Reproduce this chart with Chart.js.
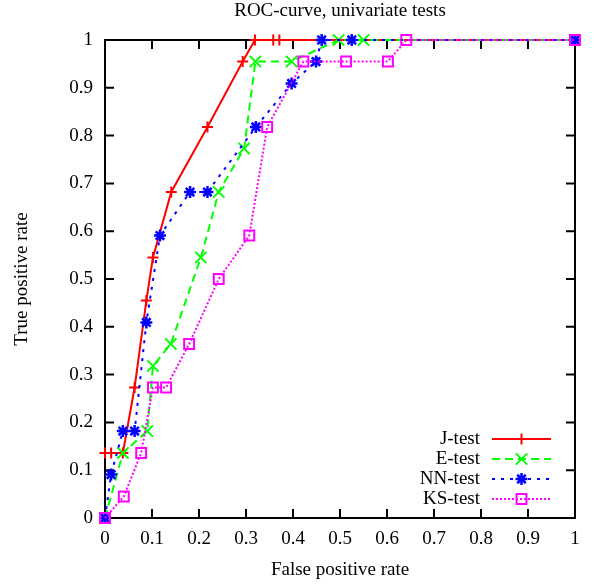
<!DOCTYPE html>
<html>
<head>
<meta charset="utf-8">
<script src="https://cdn.jsdelivr.net/npm/chart.js@4/dist/chart.umd.min.js"></script>
<style>
  html, body { margin: 0; padding: 0; background: #fff; }
</style>
</head>
<body>
<canvas id="roc" width="596" height="585"></canvas>
<script>
// --- ROC data ---
const seriesNames = ['J-test', 'E-test', 'NN-test', 'KS-test'];

const jX = [0, 0.013, 0.038, 0.063, 0.088, 0.102, 0.141, 0.218, 0.293, 0.319, 0.358, 0.371, 1];
const jY = [0.136, 0.136, 0.136, 0.273, 0.455, 0.545, 0.682, 0.818, 0.955, 1, 1, 1, 1];

const eX = [0, 0.038, 0.090, 0.102, 0.140, 0.204, 0.242, 0.296, 0.320, 0.397, 0.497, 0.550, 1];
const eY = [0, 0.136, 0.182, 0.318, 0.364, 0.545, 0.682, 0.773, 0.955, 0.955, 1, 1, 1];

const nnX = [0, 0.013, 0.038, 0.063, 0.088, 0.117, 0.181, 0.218, 0.321, 0.397, 0.449, 0.461, 0.525, 1];
const nnY = [0, 0.091, 0.182, 0.182, 0.409, 0.591, 0.682, 0.682, 0.818, 0.909, 0.955, 1, 1, 1];

const ksX = [0, 0.040, 0.077, 0.102, 0.130, 0.179, 0.242, 0.307, 0.345, 0.422, 0.513, 0.602, 0.641, 1];
const ksY = [0, 0.045, 0.136, 0.273, 0.273, 0.364, 0.5, 0.591, 0.818, 0.955, 0.955, 0.955, 1, 1];

// gnuplot-ish styles
const colors = ['#ff0000', '#00ff00', '#0000ff', '#ff00ff'];
const dashes = [[], [8, 5], [3, 6], [2, 2]];
const markers = ['cross', 'crossRot', 'star', 'rect'];
const markerSize = [5.5, 8, 6, 7];
const markerWidth = [2, 2, 2.5, 2];

const FONT = '"Liberation Serif", "DejaVu Serif", serif';
Chart.defaults.font.family = FONT;
Chart.defaults.font.size = 19;
Chart.defaults.color = '#000';

function pts(xs, ys) {
    return xs.map((x, i) => ({ x: x, y: ys[i] }));
}
const seriesData = [pts(jX, jY), pts(eX, eY), pts(nnX, nnY), pts(ksX, ksY)];

const datasets = seriesNames.map((name, i) => ({
    label: name,
    data: seriesData[i],
    showLine: true,
    tension: 0,
    borderColor: colors[i],
    backgroundColor: colors[i],
    borderWidth: 2,
    borderDash: dashes[i],
    pointStyle: markers[i],
    pointRadius: markerSize[i],
    pointHoverRadius: markerSize[i],
    pointBorderColor: colors[i],
    pointBackgroundColor: 'rgba(0,0,0,0)',
    pointBorderWidth: markerWidth[i],
    clip: false,
    order: seriesNames.length - i   // KS on top, like gnuplot
}));

// frame + inward ticks on all four sides
const frame = {
    id: 'frame',
    beforeDatasetsDraw(chart) {
        const { ctx, chartArea: a, scales: { x, y } } = chart;
        const len = 9;
        ctx.save();
        ctx.strokeStyle = '#000';
        ctx.lineWidth = 2;
        ctx.beginPath();
        x.ticks.forEach(t => {
            const px = x.getPixelForValue(t.value);
            ctx.moveTo(px, a.bottom); ctx.lineTo(px, a.bottom - len);
            ctx.moveTo(px, a.top); ctx.lineTo(px, a.top + len);
        });
        y.ticks.forEach(t => {
            const py = y.getPixelForValue(t.value);
            ctx.moveTo(a.left, py); ctx.lineTo(a.left + len, py);
            ctx.moveTo(a.right, py); ctx.lineTo(a.right - len, py);
        });
        ctx.stroke();
        ctx.strokeRect(a.left, a.top, a.right - a.left, a.bottom - a.top);
        ctx.restore();
    }
};

// key in the lower right corner
const key = {
    id: 'key',
    afterDatasetsDraw(chart) {
        const { ctx, chartArea: a } = chart;
        const textRight = a.right - 95;
        const lineL = a.right - 83, lineR = a.right - 24;
        const firstRow = a.bottom - 79;
        ctx.save();
        ctx.font = '19px ' + FONT;
        ctx.textAlign = 'right';
        ctx.textBaseline = 'middle';
        chart.data.datasets.forEach((ds, i) => {
            const yy = firstRow + i * 20;
            ctx.fillStyle = '#000';
            ctx.fillText(ds.label, textRight, yy);
            ctx.strokeStyle = ds.borderColor;
            ctx.lineWidth = ds.borderWidth;
            ctx.setLineDash(ds.borderDash);
            ctx.beginPath();
            ctx.moveTo(lineL, yy);
            ctx.lineTo(lineR, yy);
            ctx.stroke();
            ctx.setLineDash([]);
            ctx.lineWidth = ds.pointBorderWidth;
            ctx.fillStyle = 'rgba(0,0,0,0)';
            Chart.helpers.drawPoint(ctx, {
                pointStyle: ds.pointStyle,
                radius: ds.pointRadius,
                rotation: 0,
                borderWidth: ds.pointBorderWidth
            }, (lineL + lineR) / 2, yy);
        });
        ctx.restore();
    }
};

new Chart(document.getElementById('roc'), {
    type: 'scatter',
    data: { datasets: datasets },
    options: {
        responsive: false,
        animation: false,
        events: [],
        layout: { padding: { left: 0, right: 21, top: 0, bottom: 0 } },
        plugins: {
            legend: { display: false },
            tooltip: { enabled: false },
            title: {
                display: true,
                text: 'ROC-curve, univariate tests',
                fullSize: false,
                color: '#000',
                font: { size: 19, lineHeight: 1, weight: 'normal' },
                padding: { top: 2, bottom: 19 }
            }
        },
        scales: {
            x: {
                type: 'linear',
                min: 0, max: 1,
                grid: { display: false, drawTicks: false },
                border: { display: false },
                ticks: { stepSize: 0.1, padding: 10, maxRotation: 0,
                         callback: v => String(+v.toFixed(1)) },
                title: { display: true, text: 'False positive rate', padding: { top: 0, bottom: 4 } },
                afterFit: s => { s.height = 67; }
            },
            y: {
                type: 'linear',
                min: 0, max: 1,
                grid: { display: false, drawTicks: false },
                border: { display: false },
                ticks: { stepSize: 0.1, padding: 12,
                         callback: v => String(+v.toFixed(1)) },
                title: { display: true, text: 'True positive rate', padding: { top: 11, bottom: 0 } },
                afterFit: s => { s.width = 105; }
            }
        }
    },
    plugins: [frame, key]
});
</script>
</body>
</html>
